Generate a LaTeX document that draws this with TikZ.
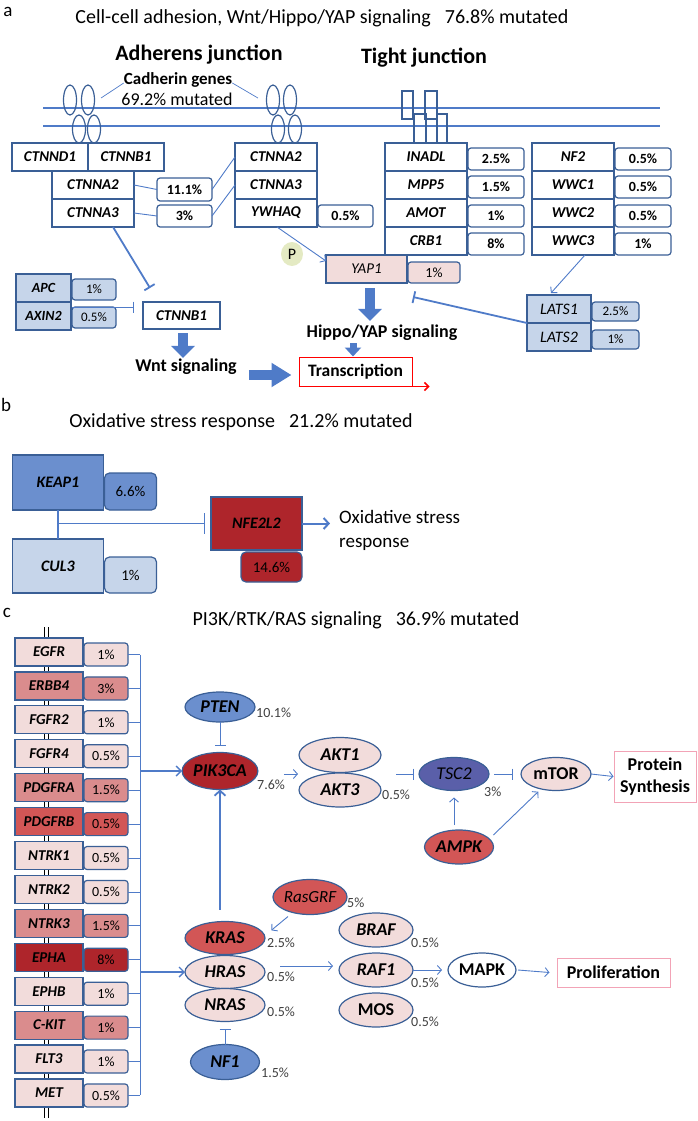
\documentclass[tikz,border=0pt]{standalone}
\usepackage{fontspec}
\setmainfont{Carlito}
\usetikzlibrary{positioning,shapes.geometric,arrows.meta,calc}

\definecolor{boxblue}{HTML}{3A5F96}
\definecolor{linkblue}{HTML}{4F7BC8}
\definecolor{paleblue}{HTML}{C6D5EA}
\definecolor{midblue}{HTML}{6B8FCE}
\definecolor{tscblue}{HTML}{5A5FA9}
\definecolor{palepink}{HTML}{F2DCDB}
\definecolor{softred}{HTML}{DA8C8D}
\definecolor{midred}{HTML}{D25656}
\definecolor{darkred}{HTML}{AE252B}
\definecolor{pgreen}{HTML}{E4EAC3}
\definecolor{edgepink}{HTML}{F2A3B6}
\definecolor{pcttext}{HTML}{404040}

\newcommand{\sizept}[1]{\fontsize{#1}{\fpeval{1.22*#1}}\selectfont}

\tikzset{
  gene/.style={draw=boxblue,line width=1.2pt,fill=white,inner sep=0,outer sep=0,
    minimum width=82pt,minimum height=28pt,font=\sizept{15}\bfseries\itshape},
  pct/.style={draw=boxblue,line width=1.2pt,fill=white,rounded corners=3pt,inner sep=0,
    outer sep=0,minimum width=56pt,minimum height=22pt,font=\sizept{14}\bfseries},
  oval/.style={ellipse,draw=boxblue,line width=1.2pt,fill=palepink,inner sep=0,outer sep=0,
    font=\sizept{18}\bfseries\itshape},
  cell/.style={ellipse,draw=boxblue,line width=1.2pt,inner sep=0,minimum width=13pt},
  txt/.style={inner sep=1pt},
  pcttxt/.style={anchor=west,inner sep=0,text=pcttext,font=\sizept{14}},
  link/.style={draw=linkblue,line width=0.9pt},
  linkarrow/.style={link,-{Straight Barb[length=4pt,width=9pt]}},
  inhibit/.style={link,-{Bar[width=11pt]}},
  fat/.style={draw=linkblue,line width=10pt,-{Triangle[length=12pt,width=23pt]}},
  outcome/.style={draw=edgepink,line width=1pt,inner sep=0,minimum height=29pt,
    font=\sizept{18}\bfseries}
}

\begin{document}
\begin{tikzpicture}[x=1pt,y=-1pt]
\useasboundingbox (0,0) rectangle (697,1121);

% ---- a: adhesion, Wnt, Hippo/YAP
\node[txt,font=\sizept{19}] (laba) at (8,12) {a};
\node[txt,font=\sizept{20}] (titlea) at (322,18)
  {Cell-cell adhesion, Wnt/Hippo/YAP signaling\hspace{0.7em}76.8\% mutated};
\node[txt,font=\sizept{22}\bfseries] (adh) at (199,55) {Adherens junction};
\node[txt,font=\sizept{22}\bfseries] (tight) at (424,58) {Tight junction};
\node[txt,inner sep=0,font=\sizept{17}\bfseries] (cadh) at (178,80) {Cadherin genes};
\node[txt,font=\sizept{18}] (cadhpct) at (177,99) {69.2\% mutated};

\draw[linkblue,line width=1.2pt] (43,108) -- (660,108) (43,126) -- (660,126);

\node[cell,minimum height=30pt] (cadTL1) at (70,100) {};
\node[cell,minimum height=30pt] (cadTL2) at (88,100) {};
\node[cell,minimum height=28pt] (cadBL1) at (79,129) {};
\node[cell,minimum height=28pt] (cadBL2) at (94,129) {};
\node[cell,minimum height=30pt] (cadTR1) at (273,100) {};
\node[cell,minimum height=30pt] (cadTR2) at (290,100) {};
\node[cell,minimum height=28pt] (cadBR1) at (278,129) {};
\node[cell,minimum height=28pt] (cadBR2) at (295,129) {};
\draw[link,line width=0.7pt] ($(cadTL2.east)+(6,-2)$) -- ($(cadh.west)+(0,3)$);
\draw[link,line width=0.7pt] ($(cadh.east)+(0,3)$) -- ($(cadTR1.west)+(-8,-2)$);

\draw[boxblue,line width=1.2pt] (402,91) rectangle (413,119) (425,91) rectangle (437,119)
  (414,114) rectangle (426,143) (437,114) rectangle (447,143);

\node[gene,minimum width=76pt] (ctnnd1) at (50,157) {CTNND1};
\node[gene,minimum width=76pt] (ctnnb1) at (126,157) {CTNNB1};
\node[gene] (ctnnaL2) at (93,185) {CTNNA2};
\node[gene,below=0pt of ctnnaL2] (ctnnaL3) {CTNNA3};
\node[pct,minimum width=55pt,minimum height=23pt] (p111) at (184.5,189.5) {11.1\%};
\node[pct,minimum width=55pt] (p3) at (184.5,216) {3\%};

\node[gene] (ctnnaR2) at (276,157) {CTNNA2};
\node[gene,below=0pt of ctnnaR2] (ctnnaR3) {CTNNA3};
\node[gene,below=0pt of ctnnaR3] (ywhaq) {YWHAQ};
\node[pct,anchor=south west,minimum width=55pt] (pywhaq) at ([xshift=1pt]ywhaq.south east) {0.5\%};

\node[gene] (inadl) at (426,157) {INADL};
\node[gene,below=0pt of inadl] (mpp5) {MPP5};
\node[gene,below=0pt of mpp5] (amot) {AMOT};
\node[gene,below=0pt of amot] (crb1) {CRB1};
\node[pct,anchor=south west] (pinadl) at ([xshift=1pt,yshift=1pt]inadl.south east) {2.5\%};
\node[pct,anchor=south west] (pmpp5) at ([xshift=1pt,yshift=1pt]mpp5.south east) {1.5\%};
\node[pct,anchor=south west] (pamot) at ([xshift=1pt]amot.south east) {1\%};
\node[pct,anchor=south west] (pcrb1) at ([xshift=1pt]crb1.south east) {8\%};

\node[gene] (nf2) at (573,157) {NF2};
\node[gene,below=0pt of nf2] (wwc1) {WWC1};
\node[gene,below=0pt of wwc1] (wwc2) {WWC2};
\node[gene,below=0pt of wwc2] (wwc3) {WWC3};
\node[pct,anchor=south west] (pnf2) at ([xshift=1pt,yshift=1pt]nf2.south east) {0.5\%};
\node[pct,anchor=south west] (pwwc1) at ([xshift=1pt,yshift=1pt]wwc1.south east) {0.5\%};
\node[pct,anchor=south west] (pwwc2) at ([xshift=1pt]wwc2.south east) {0.5\%};
\node[pct,anchor=south west] (pwwc3) at ([xshift=1pt]wwc3.south east) {1\%};

\node[gene,fill=palepink,minimum width=81pt,font=\sizept{15}\itshape] (yap1) at (366.5,269) {YAP1};
\node[pct,fill=palepink,anchor=south west,minimum width=52pt,minimum height=21pt,
  font=\sizept{14}] (pyap1) at ([xshift=1pt]yap1.south east) {1\%};
\node[ellipse,fill=pgreen,inner sep=0,minimum width=22pt,minimum height=24pt,
  font=\sizept{16}] (phos) at (292,254) {P};

\node[gene,fill=paleblue,minimum width=55pt,font=\sizept{14}\bfseries\itshape] (apc) at (43.5,288) {APC};
\node[gene,fill=paleblue,minimum width=55pt,font=\sizept{14}\bfseries\itshape,below=0pt of apc] (axin2) {AXIN2};
\node[pct,fill=paleblue,anchor=south west,minimum width=44pt,minimum height=21pt,
  font=\sizept{13}] (papc) at ([xshift=1pt,yshift=2pt]apc.south east) {1\%};
\node[pct,fill=paleblue,anchor=south west,minimum width=44pt,minimum height=21pt,
  font=\sizept{13}] (paxin2) at ([xshift=1pt,yshift=2pt]axin2.south east) {0.5\%};
\node[gene,minimum width=77pt,minimum height=27pt] (ctnnbW) at (181.5,315.5) {CTNNB1};

\node[gene,fill=paleblue,minimum width=64pt,font=\sizept{16}\itshape] (lats1) at (559,309) {LATS1};
\node[gene,fill=paleblue,minimum width=64pt,font=\sizept{16}\itshape,below=0pt of lats1] (lats2) {LATS2};
\node[pct,fill=paleblue,anchor=south west,minimum width=47pt,minimum height=19pt,
  font=\sizept{13}] (plats1) at ([xshift=1pt,yshift=2pt]lats1.south east) {2.5\%};
\node[pct,fill=paleblue,anchor=south west,minimum width=47pt,minimum height=19pt,
  font=\sizept{13}] (plats2) at ([xshift=1pt,yshift=2pt]lats2.south east) {1\%};

\node[txt,font=\sizept{18}\bfseries] (hippo) at (382,333) {Hippo/YAP signaling};
\node[txt,font=\sizept{18}\bfseries] (wnt) at (186,367) {Wnt signaling};
\node[draw=red,line width=1pt,inner sep=0,minimum width=113pt,minimum height=29pt,
  font=\sizept{17.5}\bfseries] (transcr) at (355.5,371.5) {Transcription};

\draw[link] (ctnnaL2.east) -- (p111.west);
\draw[link] (ctnnaL3.east) -- (p3.west);
\draw[link] (p111.east) -- (ctnnaR2.west);
\draw[link] (p3.east) -- (ctnnaR3.west);
\draw[linkarrow] ($(ywhaq.south)+(1,0)$) -- ($(yap1.west)+(0,-8)$);
\draw[linkarrow] ($(wwc3.south)+(12,0)$) -- ($(lats1.north)+(-8,-2)$);
\draw[inhibit,line width=1.8pt,-{Bar[width=12pt]}] ($(ctnnaL3.south)+(20,0)$) -- ($(ctnnbW.north)+(-31.5,-14)$);
\draw[inhibit] (paxin2.north west) -- ($(ctnnbW.west |- paxin2.north)+(-9,0)$);
\draw[inhibit,line width=1.8pt,-{Bar[width=12pt]}] (lats1.south west) -- ($(pyap1.south west)+(5,14)$);
\draw[fat] ($(yap1.south)+(3.5,5)$) -- ($(hippo.north)+(-12,-3)$);
\draw[fat,line width=7pt,-{Triangle[length=9pt,width=16pt]}] ($(hippo.south)+(-29,1)$) -- ($(transcr.north)+(-2.5,0)$);
\draw[fat] ($(ctnnbW.south)+(1.5,4)$) -- ($(wnt.north)+(-3,0)$);
\draw[fat,-{Triangle[length=20pt,width=23pt]}] ($(wnt.east)+(11,8)$) -- ($(transcr.west)+(-7,3.5)$);
\draw[red,line width=1.5pt,-{Straight Barb[length=4pt,width=8pt]}] (transcr.south west) -- ($(transcr.south east)+(17,0)$);

% ---- b: oxidative stress
\node[txt,font=\sizept{19}] (labb) at (6,405) {b};
\node[txt,font=\sizept{20}] (titleb) at (241,422)
  {Oxidative stress response\hspace{0.7em}21.2\% mutated};
\node[gene,fill=midblue,minimum width=91pt,minimum height=55pt,font=\sizept{16}\bfseries\itshape] (keap1) at (58,482.5) {KEAP1};
\node[pct,fill=midblue,anchor=south west,minimum width=52pt,minimum height=37pt,
  rounded corners=5pt,font=\sizept{15}] (pkeap1) at ([xshift=1pt]keap1.south east) {6.6\%};
\node[gene,fill=paleblue,minimum width=91pt,minimum height=54pt,font=\sizept{16}\bfseries\itshape] (cul3) at (58,566) {CUL3};
\node[pct,fill=paleblue,anchor=south west,minimum width=52pt,minimum height=36pt,
  rounded corners=5pt,font=\sizept{15}] (pcul3) at ([xshift=1pt]cul3.south east) {1\%};
\node[gene,fill=darkred,minimum width=91pt,minimum height=53pt,font=\sizept{16}\bfseries\itshape] (nfe2l2) at (256.5,523.5) {NFE2L2};
\node[pct,fill=darkred,anchor=north east,minimum width=61pt,minimum height=30pt,
  rounded corners=5pt,font=\sizept{15}] (pnfe2l2) at ([yshift=-2pt]nfe2l2.south east) {14.6\%};
\node[txt,anchor=west,align=left,font=\sizept{19}] (oxresp) at (338,530.5) {Oxidative stress\\response};

\coordinate (kc) at (keap1.south |- nfe2l2.west);
\draw[link,line width=1.5pt] (keap1.south) -- (cul3.north);
\draw[link,line width=1.5pt,-{Bar[width=21pt]}] (kc) -- ($(nfe2l2.west)+(-6,0)$);
\draw[link,line width=2pt,-{Straight Barb[length=5pt,width=11pt]}] (nfe2l2.east) -- ($(nfe2l2.east -| oxresp.west)+(-8,0)$);

% ---- c: PI3K/RTK/RAS
\node[txt,font=\sizept{19}] (labc) at (7,613) {c};
\node[txt,font=\sizept{20}] (titlec) at (356,620)
  {PI3K/RTK/RAS signaling\hspace{0.7em}36.9\% mutated};

\draw[line width=0.7pt] (44,627) -- (44,1118) (48,627) -- (48,1118);
\coordinate (brk) at (140,700);
\foreach \i/\g/\p/\col in {0/EGFR/1/palepink, 1/ERBB4/3/softred, 2/FGFR2/1/palepink,
    3/FGFR4/0.5/palepink, 4/PDGFRA/1.5/softred, 5/PDGFRB/0.5/midred,
    6/NTRK1/0.5/palepink, 7/NTRK2/0.5/palepink, 8/NTRK3/1.5/softred,
    9/EPHA/8/darkred, 10/EPHB/1/palepink, 11/C-KIT/1/softred,
    12/FLT3/1/palepink, 13/MET/0.5/palepink}{
  \node[gene,fill=\col,minimum width=68pt,font=\sizept{15}\bfseries\itshape] (r\i) at (49,{652+33.92*\i}) {\g};
  \node[pct,fill=\col,anchor=south west,minimum width=44pt,minimum height=23pt,
    font=\sizept{14}] (rp\i) at ([xshift=1pt]r\i.south east) {\p\%};
  \draw[link] (rp\i.east) -- (rp\i.east -| brk);
}
\draw[link] (rp0.east -| brk) -- (rp13.east -| brk);

\node[oval,fill=midblue,minimum width=70pt,minimum height=30pt] (pten) at (220,707) {PTEN};
\node[oval,fill=darkred,minimum width=74pt,minimum height=37pt] (pik3ca) at (220,771) {PIK3CA};
\node[oval,minimum width=82pt,minimum height=35pt] (akt1) at (340,755) {AKT1};
\node[oval,minimum width=82pt,minimum height=34pt] (akt3) at (340,790) {AKT3};
\node[oval,fill=tscblue,minimum width=70pt,minimum height=33pt,font=\sizept{18}\itshape] (tsc2) at (454,774) {TSC2};
\node[oval,minimum width=70pt,minimum height=33pt,font=\sizept{18}\bfseries] (mtor) at (556,774) {mTOR};
\node[outcome,minimum width=82pt,minimum height=51pt,align=center] (psynth) at (655,776.5) {Protein\\Synthesis};
\node[oval,fill=midred,minimum width=69pt,minimum height=34pt] (ampk) at (459,847) {AMPK};
\node[oval,fill=midred,minimum width=69pt,minimum height=35pt,font=\sizept{17}\itshape] (rasgrf) at (310,897) {RasGRF};
\node[oval,fill=midred,minimum width=80pt,minimum height=33pt] (kras) at (225,938) {KRAS};
\node[oval,minimum width=80pt,minimum height=33pt] (hras) at (225,972) {HRAS};
\node[oval,minimum width=80pt,minimum height=33pt] (nras) at (225,1005) {NRAS};
\node[oval,minimum width=74pt,minimum height=34pt] (braf) at (376,930) {BRAF};
\node[oval,minimum width=74pt,minimum height=34pt] (raf1) at (376,970) {RAF1};
\node[oval,minimum width=74pt,minimum height=34pt,font=\sizept{18}\bfseries] (mos) at (376,1010) {MOS};
\node[oval,fill=white,minimum width=68pt,minimum height=34pt,font=\sizept{18}\bfseries] (mapk) at (482,970) {MAPK};
\node[outcome,minimum width=113pt] (prolif) at (613.5,972.5) {Proliferation};
\node[oval,fill=midblue,minimum width=69pt,minimum height=35pt] (nf1) at (225,1062) {NF1};

\node[pcttxt] (ptenp) at (256,713) {10.1\%};
\node[pcttxt] (pik3cap) at (257,785) {7.6\%};
\node[pcttxt] (aktp) at (382,795) {0.5\%};
\node[pcttxt] (tsc2p) at (484,792) {3\%};
\node[pcttxt] (rasgrfp) at (347,903) {5\%};
\node[pcttxt] (krasp) at (267,943) {2.5\%};
\node[pcttxt] (hrasp) at (267,977) {0.5\%};
\node[pcttxt] (nrasp) at (267,1012) {0.5\%};
\node[pcttxt] (brafp) at (411,943) {0.5\%};
\node[pcttxt] (raf1p) at (411,983) {0.5\%};
\node[pcttxt] (mosp) at (411,1022) {0.5\%};
\node[pcttxt] (nf1p) at (261,1073) {1.5\%};

\draw[link,line width=1.4pt,-{Straight Barb[length=5pt,width=10pt]}] (pik3ca.west -| brk) -- (pik3ca.west);
\draw[link,line width=1.4pt,-{Straight Barb[length=5pt,width=10pt]}] (hras.west -| brk) -- (hras.west);
\draw[inhibit] (pten.south) -- ($(pik3ca.north)+(0,-7)$);
\draw[linkarrow] ($(pik3ca.east)+(26,3)$) -- ($(akt1.west |- pik3ca.east)+(-1,3)$);
\draw[inhibit] ($(tsc2.west)+(-23,0)$) -- ($(tsc2.west)+(-5,0)$);
\draw[inhibit] ($(tsc2.east)+(5,0)$) -- ($(mtor.west)+(-8,0)$);
\draw[linkarrow] (mtor.east) -- (psynth.west);
\draw[linkarrow] ($(ampk.north)+(-5,-5)$) -- ($(tsc2.south)+(0,7)$);
\draw[linkarrow] ($(ampk.north east)+(10,0)$) -- ($(mtor.south west)+(7,6)$);
\draw[link,line width=1.8pt,-{Straight Barb[length=5pt,width=11pt]}] ($(kras.north -| pik3ca.south)+(0,-12)$) -- (pik3ca.south);
\draw[linkarrow] ($(rasgrf.south)+(-22,2)$) -- ($(kras.north east)+(18,4)$);
\draw[linkarrow] ($(hras.east)+(15,-6)$) -- ($(raf1.west)+(-6,-4)$);
\draw[linkarrow] (raf1.east) -- ($(mapk.west)+(-6,0)$);
\draw[linkarrow] ($(mapk.east)+(2,0)$) -- ($(prolif.west)+(-7,0)$);
\draw[inhibit] (nf1.north) -- ($(nras.south)+(0,7.5)$);
\end{tikzpicture}
\end{document}
